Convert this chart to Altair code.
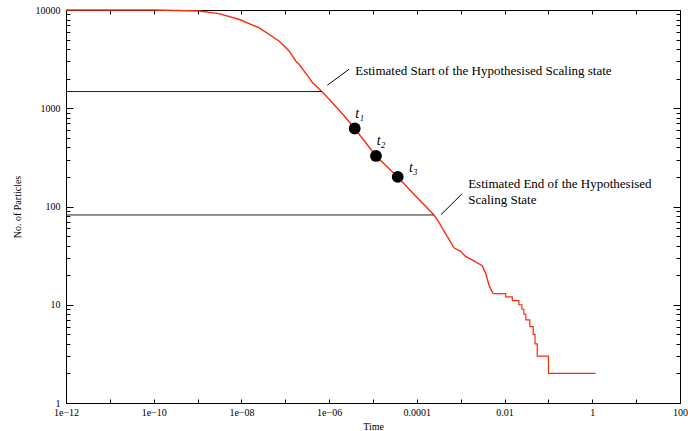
import altair as alt
import pandas as pd

FONT = "Liberation Serif"

# ---- data ----
curve_time = [1e-12, 1e-10, 1.1e-9, 3.1e-9, 9e-9, 2.5e-8, 7.2e-8, 1.22e-7, 1.73e-7,
              2.06e-7, 3.48e-7, 4.14e-7, 6.8e-7, 1e-6, 2e-6, 3.83e-6, 1.17e-5, 3.66e-5,
              7.85e-5, 2.45e-4, 3.19e-4, 4.15e-4, 5.38e-4, 7.0e-4, 9.95e-4, 1.29e-3,
              2.0e-3, 3.09e-3, 3.69e-3, 4.39e-3, 5.0e-3, 5.56e-3]
curve_n = [10000, 9990, 9770, 9190, 8000, 6620, 4840, 3830, 3030,
           2805, 2052, 1825, 1479, 1235, 880, 622, 327, 200,
           139, 82, 69, 56, 46.5, 38, 35, 31,
           28, 25, 21, 16, 14, 13]

step_time = [5.56e-3, 0.0106, 0.015, 0.0212, 0.0248, 0.0275, 0.0305, 0.0377,
             0.045, 0.0495, 0.0556, 0.1, 1.19]
step_n = [13, 12, 11, 10, 9, 8, 7, 6, 5, 4, 3, 2, 2]

marker_time = [3.83e-6, 1.17e-5, 3.66e-5]
marker_n = [622, 327, 200]

tlabel_text = ["t\u2081", "t\u2082", "t\u2083"]
tlabel_time = [3.94e-6, 1.21e-5, 6.6e-5]
tlabel_n = [791, 424, 222]

hline_n = [1480, 82]
hline_start = [1e-12, 1e-12]
hline_end = [6.8e-7, 2.45e-4]

leader_x1 = [9.1e-7, 3.54e-4]
leader_y1 = [1714, 82.5]
leader_x2 = [2.84e-6, 1.08e-3]
leader_y2 = [2493, 135]

note_text = ["Estimated Start of the Hypothesised Scaling state",
             "Estimated End of the Hypothesised",
             "Scaling State"]
note_time = [3.94e-6, 1.48e-3, 1.48e-3]
note_n = [2163, 153.5, 107]

x_decades = [1e-12, 1e-11, 1e-10, 1e-9, 1e-8, 1e-7, 1e-6, 1e-5, 1e-4, 1e-3,
             1e-2, 1e-1, 1, 10, 100]
x_label_values = [1e-12, 1e-10, 1e-8, 1e-6, 1e-4, 1e-2, 1, 100]
x_label_text = ["1e\u221212", "1e\u221210", "1e\u221208", "1e\u221206",
                "0.0001", "0.01", "1", "100"]
y_label_values = [1, 10, 100, 1000, 10000]
y_label_text = ["1", "10", "100", "1000", "10000"]
y_all_ticks = [m * 10 ** e for e in range(4) for m in range(1, 10)] + [10000]

W, H = 614, 393

# ---- tables ----
curve_df = pd.DataFrame({"t": curve_time, "n": curve_n, "o": range(len(curve_time))})
step_df = pd.DataFrame({"t": step_time, "n": step_n, "o": range(len(step_time))})
marker_df = pd.DataFrame({"t": marker_time, "n": marker_n})
tlabel_df = pd.DataFrame({"t": tlabel_time, "n": tlabel_n, "s": tlabel_text})
hline_df = pd.DataFrame({"t0": hline_start, "t1": hline_end, "n": hline_n})
leader_df = pd.DataFrame({"x1": leader_x1, "y1": leader_y1, "x2": leader_x2, "y2": leader_y2})
note_df = pd.DataFrame({"t": note_time, "n": note_n, "s": note_text})

xscale = alt.Scale(type="log", domain=[1e-12, 100], nice=False)
yscale = alt.Scale(type="log", domain=[1, 10000], nice=False)

x_lab_expr = "[" + ",".join("'%s'" % s for s in x_label_text) + "][round((log(datum.value)/LN10 + 12)/2)]"
y_lab_expr = "[" + ",".join("'%s'" % s for s in y_label_text) + "][round(log(datum.value)/LN10)]"
major_test = "abs(log(datum.value)/LN10 - round(log(datum.value)/LN10)) < 0.001"

common = dict(grid=False, tickColor="black", domainColor="black", domainWidth=1, tickWidth=1)

x_main = alt.Axis(orient="bottom", values=x_label_values, labelExpr=x_lab_expr,
                  ticks=False, tickSize=0, domain=True, labels=True,
                  labelFont=FONT, labelFontSize=10, labelColor="black", labelPadding=4,
                  labelFlush=False, labelOverlap=False,
                  title="Time", titleFont=FONT, titleFontSize=10, titleFontWeight="normal",
                  titleColor="black", titleX=W / 2, titleY=23, titleBaseline="middle", **common)
x_ticks_bottom = alt.Axis(orient="top", offset=-H, values=x_decades, labels=False,
                          domain=False, ticks=True, tickSize=4, title="", **common)
x_ticks_top = alt.Axis(orient="bottom", offset=-H, values=x_decades, labels=False,
                       domain=True, ticks=True, tickSize=4, title="", **common)

y_main = alt.Axis(orient="left", values=y_label_values, labelExpr=y_lab_expr,
                  ticks=False, tickSize=0, domain=True, labels=True,
                  labelFont=FONT, labelFontSize=10, labelColor="black", labelPadding=6,
                  labelFlush=False, labelOverlap=False,
                  title="No. of Particles", titleFont=FONT, titleFontSize=10,
                  titleFontWeight="normal", titleColor="black",
                  titleX=-49, titleY=H / 2, titleBaseline="middle", titleAngle=270, **common)
tick_size = {"condition": {"test": major_test, "value": 7}, "value": 4}
y_ticks_left = alt.Axis(orient="right", offset=-W, values=y_all_ticks, labels=False,
                        domain=False, ticks=True, tickSize=tick_size, title="", **common)
y_ticks_right = alt.Axis(orient="left", offset=-W, values=y_all_ticks, labels=False,
                         domain=True, ticks=True, tickSize=tick_size, title="", **common)

RED = "#ff2a0a"

curve = alt.Chart(curve_df).mark_line(color=RED, strokeWidth=1.4).encode(
    x=alt.X("t:Q", scale=xscale, axis=x_main),
    y=alt.Y("n:Q", scale=yscale, axis=y_main),
    order="o:Q",
)

steps = alt.Chart(step_df).mark_line(color=RED, strokeWidth=1.2, interpolate="step-after").encode(
    x=alt.X("t:Q", scale=xscale, axis=x_ticks_bottom),
    y=alt.Y("n:Q", scale=yscale, axis=y_ticks_left),
    order="o:Q",
)

hlines = alt.Chart(hline_df).mark_rule(color="#222222", strokeWidth=1).encode(
    x=alt.X("t0:Q", scale=xscale, axis=x_ticks_top),
    x2="t1:Q",
    y=alt.Y("n:Q", scale=yscale, axis=y_ticks_right),
)

leaders = alt.Chart(leader_df).mark_rule(color="black", strokeWidth=1).encode(
    x=alt.X("x1:Q", scale=xscale, axis=None),
    y=alt.Y("y1:Q", scale=yscale, axis=None),
    x2="x2:Q",
    y2="y2:Q",
)

markers = alt.Chart(marker_df).mark_circle(color="black", size=140, opacity=1).encode(
    x=alt.X("t:Q", scale=xscale, axis=None),
    y=alt.Y("n:Q", scale=yscale, axis=None),
)

tlabels = alt.Chart(tlabel_df).mark_text(font=FONT, fontSize=14, fontStyle="italic",
                                         align="left", baseline="alphabetic", color="black").encode(
    x=alt.X("t:Q", scale=xscale, axis=None),
    y=alt.Y("n:Q", scale=yscale, axis=None),
    text="s:N",
)

notes = alt.Chart(note_df).mark_text(font=FONT, fontSize=13, align="left",
                                     baseline="alphabetic", color="black").encode(
    x=alt.X("t:Q", scale=xscale, axis=None),
    y=alt.Y("n:Q", scale=yscale, axis=None),
    text="s:N",
)

chart = alt.layer(curve, steps, hlines, leaders, markers, tlabels, notes).resolve_axis(
    x="independent", y="independent"
).properties(
    width=W, height=H,
    autosize=alt.AutoSizeParams(type="none"),
    padding={"left": 66, "top": 10, "right": 8, "bottom": 28},
    background="white",
).configure_view(strokeWidth=0)

chart.save("out.html", embed_options={"renderer": "svg", "actions": False})
